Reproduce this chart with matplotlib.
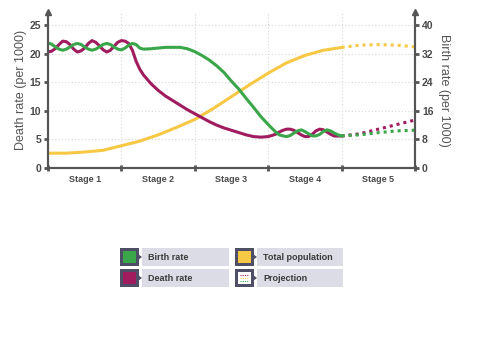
import matplotlib.pyplot as plt
from matplotlib.patches import Rectangle, Polygon

plt.rcParams['font.family'] = ['Liberation Sans', 'DejaVu Sans']

# stage position (0..5) and values
death_x = [0.00, 0.05, 0.10, 0.15, 0.20, 0.25, 0.30, 0.35, 0.40, 0.45, 0.50, 0.55,
           0.60, 0.65, 0.70, 0.75, 0.80, 0.85, 0.90, 0.95, 1.00, 1.05, 1.10, 1.15,
           1.20, 1.25, 1.30, 1.40, 1.50, 1.60, 1.70, 1.80, 1.90, 2.00, 2.10, 2.20,
           2.30, 2.40, 2.50, 2.60, 2.70, 2.80, 2.90, 3.00, 3.10, 3.15, 3.20, 3.25,
           3.30, 3.35, 3.40, 3.45, 3.50, 3.55, 3.60, 3.65, 3.70, 3.75, 3.80, 3.85,
           3.90, 3.95, 4.00]
death_rate = [20.3, 20.45, 20.9, 21.6, 22.2, 22.1, 21.6, 20.8, 20.3, 20.5, 21.0, 21.8,
              22.3, 22.0, 21.4, 20.7, 20.3, 20.6, 21.3, 22.0, 22.3, 22.2, 21.8, 20.6,
              18.7, 17.3, 16.3, 14.8, 13.6, 12.6, 11.8, 11.0, 10.2, 9.5, 8.8, 8.1,
              7.5, 7.0, 6.6, 6.2, 5.8, 5.5, 5.4, 5.5, 5.9, 6.3, 6.6, 6.8,
              6.8, 6.6, 6.2, 5.8, 5.5, 5.5, 5.9, 6.5, 6.8, 6.7, 6.3, 5.9,
              5.6, 5.6, 5.6]
death_proj_x = [4.00, 4.25, 4.50, 4.75, 5.00]
death_proj = [5.6, 6.0, 6.8, 7.6, 8.4]

birth_x = [0.00, 0.05, 0.10, 0.15, 0.20, 0.25, 0.30, 0.35, 0.40, 0.45, 0.50, 0.55,
           0.60, 0.65, 0.70, 0.75, 0.80, 0.85, 0.90, 0.95, 1.00, 1.05, 1.10, 1.15,
           1.20, 1.25, 1.30, 1.40, 1.50, 1.60, 1.70, 1.80, 1.90, 2.00, 2.10, 2.20,
           2.30, 2.40, 2.50, 2.60, 2.70, 2.80, 2.90, 3.00, 3.10, 3.15, 3.20, 3.25,
           3.30, 3.35, 3.40, 3.45, 3.50, 3.55, 3.60, 3.65, 3.70, 3.75, 3.80, 3.85,
           3.90, 3.95, 4.00]
birth_rate = [35.0, 34.7, 33.9, 33.3, 33.0, 33.3, 33.9, 34.6, 34.9, 34.6, 33.9, 33.3,
              33.0, 33.3, 33.9, 34.6, 34.9, 34.6, 33.9, 33.3, 33.1, 33.6, 34.4, 34.9,
              34.6, 33.6, 33.3, 33.4, 33.6, 33.8, 33.8, 33.8, 33.4, 32.6, 31.5, 30.2,
              28.6, 26.7, 24.3, 22.1, 19.5, 17.0, 14.4, 12.2, 10.1, 9.3, 9.0, 8.8,
              9.1, 9.8, 10.4, 10.7, 10.2, 9.6, 9.0, 9.0, 9.4, 10.2, 10.7, 10.4,
              9.8, 9.3, 9.0]
birth_proj_x = [4.00, 4.25, 4.50, 4.75, 5.00]
birth_proj = [9.0, 9.3, 9.9, 10.4, 10.6]

pop_x = [0.0, 0.25, 0.5, 0.75, 1.0, 1.25, 1.5, 1.75, 2.0, 2.25, 2.5, 2.75,
         3.0, 3.25, 3.5, 3.75, 4.0]
population = [2.6, 2.6, 2.8, 3.1, 3.9, 4.7, 5.8, 7.1, 8.5, 10.4, 12.5, 14.6,
              16.6, 18.4, 19.7, 20.6, 21.1]
pop_proj_x = [4.0, 4.25, 4.5, 4.75, 5.0]
pop_proj = [21.1, 21.5, 21.6, 21.5, 21.2]

stages = ['Stage 1', 'Stage 2', 'Stage 3', 'Stage 4', 'Stage 5']

green = '#3aa64a'
magenta = '#a01c5e'
yellow = '#f7c843'
axis_col = '#555555'
text_col = '#4a4a4a'
dots = (0, (1, 1.3))

fig = plt.figure(figsize=(5, 3.53), dpi=100)
ax = fig.add_axes([0.096, 0.524, 0.734, 0.442])
ax2 = ax.twinx()

ax.plot(pop_x, population, color=yellow, lw=2.2, solid_capstyle='round')
ax.plot(pop_proj_x, pop_proj, color=yellow, lw=2.2, linestyle=dots)
ax.plot(death_x, death_rate, color=magenta, lw=2.2, solid_capstyle='round')
ax.plot(death_proj_x, death_proj, color=magenta, lw=2.2, linestyle=dots)
ax2.plot(birth_x, birth_rate, color=green, lw=2.2, solid_capstyle='round')
ax2.plot(birth_proj_x, birth_proj, color=green, lw=2.2, linestyle=dots)

ax.set_xlim(0, 5)
ax.set_ylim(0, 27.3)
ax2.set_ylim(0, 43.7)
ax.set_yticks([0, 5, 10, 15, 20, 25])
ax2.set_yticks([0, 8, 16, 24, 32, 40])
ax.set_xticks([0, 1, 2, 3, 4, 5])
ax.set_xticklabels([])
ax.set_xticks([0.5, 1.5, 2.5, 3.5, 4.5], minor=True)
ax.set_xticklabels(stages, minor=True, fontsize=6.5, fontweight='bold', color=text_col)
ax.tick_params(axis='x', which='minor', length=0, pad=5)
ax.tick_params(axis='x', which='major', direction='inout', length=5, width=2, color=axis_col)
for a in (ax, ax2):
    a.tick_params(axis='y', direction='out', length=3, width=2, color=axis_col,
                  labelsize=7.5, labelcolor=text_col, pad=2)
    for t in a.get_yticklabels():
        t.set_fontweight('bold')
    a.spines['top'].set_visible(False)
    for s in ('left', 'right', 'bottom'):
        a.spines[s].set_color(axis_col)
        a.spines[s].set_linewidth(1.5)

ax.grid(True, color='#d8d8d8', linestyle=(0, (1, 2)), linewidth=0.8)
ax.set_axisbelow(True)

ax.plot(0, 1, marker='^', color=axis_col, ms=4, transform=ax.transAxes, clip_on=False)
ax.plot(1, 1, marker='^', color=axis_col, ms=4, transform=ax.transAxes, clip_on=False)

ax.set_ylabel('Death rate (per 1000)', fontsize=9, color='#555555', labelpad=2)
ax2.set_ylabel('Birth rate (per 1000)', fontsize=9, color='#555555', rotation=270, labelpad=12)

# legend drawn as boxes in pixel space
leg = fig.add_axes([0, 0, 1, 1])
leg.set_xlim(0, 500)
leg.set_ylim(353, 0)
leg.axis('off')
items = [('Birth rate', green, 120, 248), ('Death rate', magenta, 120, 269),
         ('Total population', yellow, 235, 248), ('Projection', None, 235, 269)]
for label, col, x0, y0 in items:
    leg.add_patch(Rectangle((x0, y0), 19, 18, color='#4e4e66', lw=0))
    leg.add_patch(Polygon([(x0 + 18, y0 + 6), (x0 + 22, y0 + 9), (x0 + 18, y0 + 12)],
                          closed=True, color='#4e4e66', lw=0))
    face = col if col else 'white'
    leg.add_patch(Rectangle((x0 + 3, y0 + 3), 13, 12, color=face, lw=0))
    if col is None:
        for k, c in enumerate([magenta, yellow, green]):
            leg.plot([x0 + 5, x0 + 14], [y0 + 6 + k * 3] * 2, color=c, lw=0.8,
                     linestyle=(0, (1, 1)))
    w = 87 if x0 < 200 else 86
    leg.add_patch(Rectangle((x0 + 22, y0), w, 18, color='#dcdce6', lw=0))
    leg.text(x0 + 28, y0 + 9.5, label, fontsize=6.5, fontweight='bold', color='#3a3a3a',
             va='center', ha='left')

fig.savefig('out.png', dpi=100)
